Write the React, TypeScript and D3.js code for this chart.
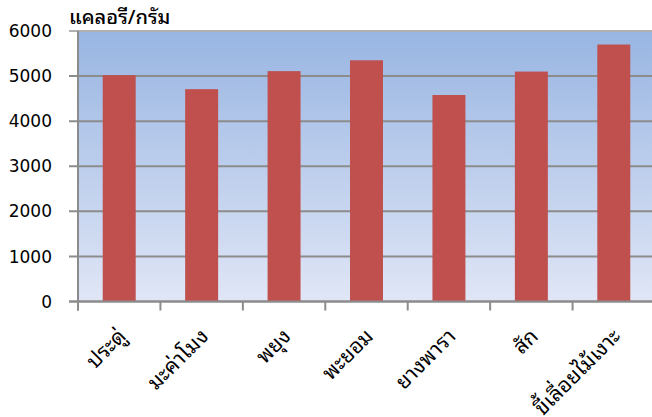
import { useRef, useLayoutEffect } from 'react';
import * as d3 from 'd3';

const categories = ['ประดู่', 'มะค่าโมง', 'พยุง', 'พะยอม', 'ยางพารา', 'สัก', 'ขี้เลื่อยไม้เงาะ'];
const values = [5020, 4710, 5110, 5350, 4580, 5100, 5700];
const yTicks = [0, 1000, 2000, 3000, 4000, 5000, 6000];
const yTitle = 'แคลอรี/กรัม';

const W = 652;
const H = 417;
const margin = { left: 78, top: 31, right: -3, bottom: 115 };
const thaiFont = 'Noto Sans Thai Looped, Noto Sans Thai, Noto Sans, Tahoma, sans-serif';

export default function App() {
  const ref = useRef<SVGGElement>(null);

  useLayoutEffect(() => {
    const g = d3.select(ref.current);
    g.selectAll('*').remove();

    const x = d3
      .scaleBand<string>()
      .domain(categories)
      .range([margin.left, W - margin.right])
      .paddingInner(0.6)
      .paddingOuter(0.3);
    const y = d3.scaleLinear().domain([0, 6000]).range([H - margin.bottom - 0.5, margin.top]);

    const defs = g.append('defs');
    const grad = defs
      .append('linearGradient')
      .attr('id', 'bg')
      .attr('x1', 0)
      .attr('y1', 0)
      .attr('x2', 0)
      .attr('y2', 1);
    grad.append('stop').attr('offset', '0%').attr('stop-color', '#98b5e2');
    grad.append('stop').attr('offset', '100%').attr('stop-color', '#e0e6f6');

    // plot background
    g.append('rect')
      .attr('x', margin.left)
      .attr('y', y(6000))
      .attr('width', W - margin.right - margin.left)
      .attr('height', y(0) - y(6000))
      .attr('fill', 'url(#bg)');

    // grid lines + tick marks
    g.append('g')
      .selectAll('line')
      .data(yTicks)
      .join('line')
      .attr('x1', margin.left - 9)
      .attr('x2', W)
      .attr('y1', (d) => y(d))
      .attr('y2', (d) => y(d))
      .attr('stroke', (d) => (d === 6000 ? '#b0b0b0' : '#8c8c8c'))
      .attr('stroke-width', 2);

    // y tick labels
    g.append('g')
      .selectAll('text')
      .data(yTicks)
      .join('text')
      .attr('x', 52)
      .attr('y', (d) => y(d))
      .attr('dy', '0.36em')
      .attr('text-anchor', 'end')
      .attr('font-family', 'DejaVu Sans, sans-serif')
      .attr('font-size', 17)
      .attr('fill', '#000')
      .text((d) => d);

    // bars
    g.append('g')
      .selectAll('rect')
      .data(values)
      .join('rect')
      .attr('x', (_, i) => x(categories[i])!)
      .attr('y', (d) => y(d))
      .attr('width', x.bandwidth())
      .attr('height', (d) => y(0) - y(d))
      .attr('fill', '#c0504d');

    // y axis line
    g.append('line')
      .attr('x1', margin.left)
      .attr('x2', margin.left)
      .attr('y1', y(6000))
      .attr('y2', y(0) + 9)
      .attr('stroke', '#8c8c8c')
      .attr('stroke-width', 2);

    // x axis line
    g.append('line')
      .attr('x1', margin.left - 9)
      .attr('x2', W)
      .attr('y1', y(0))
      .attr('y2', y(0))
      .attr('stroke', '#8c8c8c')
      .attr('stroke-width', 2);

    // x tick marks at category boundaries
    const step = x.step();
    g.append('g')
      .selectAll('line')
      .data(categories)
      .join('line')
      .attr('x1', (d) => x(d)! + x.bandwidth() / 2 - step / 2)
      .attr('x2', (d) => x(d)! + x.bandwidth() / 2 - step / 2)
      .attr('y1', y(0))
      .attr('y2', y(0) + 9)
      .attr('stroke', '#8c8c8c')
      .attr('stroke-width', 2);

    // x labels, rotated
    g.append('g')
      .selectAll('text')
      .data(categories)
      .join('text')
      .attr('transform', (d) => `translate(${x(d)! + x.bandwidth() / 2 + 8},${y(0) + 36}) rotate(-45)`)
      .attr('text-anchor', 'end')
      .attr('font-family', thaiFont)
      .attr('font-size', 21)
      .attr('fill', '#000')
      .text((d) => d);

    // axis title
    g.append('text')
      .attr('x', 69)
      .attr('y', 24)
      .attr('font-family', thaiFont)
      .attr('font-size', 20)
      .attr('font-weight', 500)
      .attr('fill', '#000')
      .text(yTitle);
  }, []);

  return (
    <svg
      width={W}
      height={H}
      viewBox={`0 0 ${W} ${H}`}
      style={{ position: 'absolute', left: 0, top: 0, background: '#fff' }}
    >
      <g ref={ref}></g>
    </svg>
  );
}
